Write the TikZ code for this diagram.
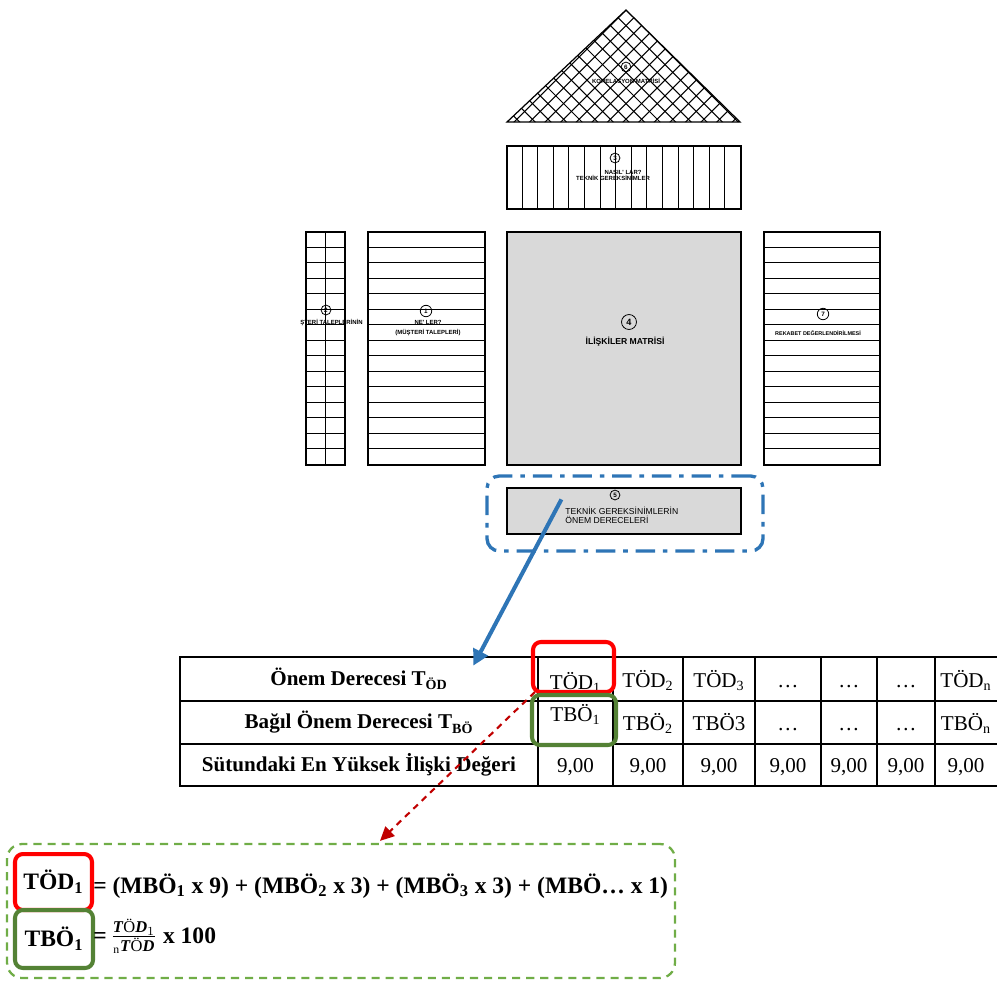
\documentclass[tikz,border=0pt]{standalone}
\usepackage{amsmath}
\usepackage{fontspec}
\setmainfont{Liberation Serif}
\newfontfamily\arialfont{Liberation Sans}
\usepackage{xcolor}
\usetikzlibrary{arrows.meta, calc, positioning}
\definecolor{qfdblue}{HTML}{2E75B6}
\definecolor{markred}{HTML}{FF0000}
\definecolor{markgreen}{HTML}{548235}
\definecolor{arrowred}{HTML}{C00000}
\definecolor{boxgreen}{HTML}{70AD47}
\definecolor{matgray}{HTML}{D9D9D9}

\begin{document}
\begin{tikzpicture}[x=0.02cm, y=-0.02cm,
    part/.style={draw, line width=0.7pt, inner sep=0pt},
    rule/.style={line width=0.5pt},
    num/.style={circle, draw, line width=0.45pt, inner sep=0pt, minimum size=5.6pt, font=\arialfont\bfseries\fontsize{3.6}{4}\selectfont},
    lbl/.style={inner sep=0pt, font=\arialfont\bfseries\fontsize{3.4}{4}\selectfont},
    tbl/.style={line width=1.5pt, line cap=rect},
    cell/.style={inner sep=0pt, anchor=base, font=\fontsize{12}{14}\selectfont},
    head/.style={inner sep=0pt, font=\bfseries\fontsize{12}{14}\selectfont, minimum width=7.16cm, minimum height=0.88cm},
    redbox/.style={draw=markred, line width=2.3pt, rounded corners=4.5pt, inner sep=0pt},
    greenbox/.style={draw=markgreen, line width=2.3pt, rounded corners=4.5pt, inner sep=0pt},
    formula/.style={inner sep=0pt, font=\bfseries\fontsize{13.4}{16}\selectfont},
    blue arrow/.style={draw=qfdblue, line width=2.3pt, -{Triangle[length=9pt, width=9pt]}},
    red arrow/.style={draw=arrowred, line width=1.2pt, dash pattern=on 3.6pt off 3pt, -{Triangle[length=8pt, width=7.5pt]}}
]
    \useasboundingbox (0,0) rectangle (997,981);

    % roof: correlation matrix
    \coordinate (roof-l) at (507,122);
    \coordinate (roof-t) at (626,10);
    \coordinate (roof-r) at (740,122);
    \begin{scope}
        \clip (roof-l) -- (roof-t) -- (roof-r) -- cycle;
        \foreach \i in {-16,...,16} {
            \draw[line width=0.6pt] (626+\i*15.6-140,10-140) -- (626+\i*15.6+140,10+140);
            \draw[line width=0.6pt] (626+\i*15.6+140,10-140) -- (626+\i*15.6-140,10+140);
        }
    \end{scope}
    \draw[line width=0.7pt] (roof-l) -- (roof-t) -- (roof-r) -- cycle;
    \node[num] (n6) at (626,67) {6};
    \node[lbl] (roof) at (626,81) {KORELASYON MATRİSİ};

    % technical requirements (hows)
    \node[part, minimum width=4.68cm, minimum height=1.26cm] (hows) at (624,177.5) {};
    \foreach \i in {1,...,14}
        \draw[rule] ($(hows.north west)+(\i*15.6,0)$) -- ($(hows.south west)+(\i*15.6,0)$);
    \node[num] (n3) at (615,158) {3};
    \node[lbl] (hows-a) at (623,172) {NASIL' LAR?};
    \node[lbl] (hows-b) at (613,178) {TEKNİK GEREKSİNİMLER};

    % left blocks
    \node[part, minimum width=0.78cm, minimum height=4.66cm] (whys) at (325.5,348.5) {};
    \node[part, minimum width=2.34cm, minimum height=4.66cm] (whats) at (426.5,348.5) {};
    \node[part, fill=matgray, minimum width=4.68cm, minimum height=4.66cm] (matrix) at (624,348.5) {};
    \node[part, minimum width=2.32cm, minimum height=4.66cm] (compet) at (822,348.5) {};
    \foreach \n in {whys, whats, compet}
        \foreach \i in {1,...,14}
            \draw[rule] ($(\n.north west)+(0,\i*15.53)$) -- ($(\n.north east)+(0,\i*15.53)$);
    \draw[rule] (whys.north) -- (whys.south);

    \node[num] (n2) at (326,310) {2};
    \node[lbl, anchor=west] (whys-text) at (300,323) {ŞTERİ TALEPLERİNİN};
    \node[num, minimum size=6.5pt] (n1) at (426,311) {1};
    \node[lbl] (whats-a) at (428,322) {NE' LER?};
    \node[lbl] (whats-b) at (428,333) {(MÜŞTERİ TALEPLERİ)};
    \node[num, minimum size=8.5pt, font=\arialfont\bfseries\fontsize{5.2}{6}\selectfont] (n4) at (629,322) {4};
    \node[lbl, font=\arialfont\bfseries\fontsize{4.9}{5}\selectfont] (matrix-text) at (625,342) {İLİŞKİLER MATRİSİ};
    \node[num, minimum size=6.5pt] (n7) at (823,314) {7};
    \node[lbl, font=\arialfont\bfseries\fontsize{3.1}{4}\selectfont] (compet-text) at (818,333) {REKABET DEĞERLENDİRİLMESİ};

    % importance of technical requirements
    \node[part, fill=matgray, minimum width=4.68cm, minimum height=0.92cm] (imp) at (624,511) {};
    \node[num] (n5) at (615,495) {5};
    \node[lbl, font=\arialfont\fontsize{4.9}{4.1}\selectfont, align=left, anchor=west] (imp-text) at (565,515.5) {TEKNİK GEREKSİNİMLERİN\\ÖNEM DERECELERİ};
    \node[draw=qfdblue, line width=1.9pt, dash pattern=on 11pt off 4.5pt on 2.6pt off 4.5pt, rounded corners=7pt, minimum width=5.52cm, minimum height=1.5cm] (focus) at (625,513.5) {};

    % table
    \foreach \x in {180,538,613,683,755,821,877,935}
        \draw[tbl] (\x,657) -- (\x,786);
    \foreach \y in {657,701,744,786}
        \draw[tbl] (180,\y) -- (997,\y);
    \node[head] (h1) at (359,679) {Önem Derecesi T\textsubscript{ÖD}};
    \node[head] (h2) at (359,722.5) {Bağıl Önem Derecesi T\textsubscript{BÖ}};
    \node[head] (h3) at (359,765) {Sütundaki En Yüksek İlişki Değeri};
    \foreach \x/\t [count=\c] in {648/TÖD\textsubscript{2}, 719/TÖD\textsubscript{3}, 788/…, 849/…, 906/…, 966/TÖD\textsubscript{n}}
        \node[cell] (a\c) at (\x,687) {\t};
    \foreach \x/\t [count=\c] in {648/TBÖ\textsubscript{2}, 719/TBÖ3, 788/…, 849/…, 906/…, 966/TBÖ\textsubscript{n}}
        \node[cell] (b\c) at (\x,730) {\t};
    \foreach \x [count=\c] in {575.5,648,719,788,849,906,966}
        \node[cell] (c\c) at (\x,772) {9,00};
    \node[cell] (a0) at (575.5,689) {TÖD\textsubscript{1}};
    \node[cell] (b0) at (575.5,721) {TBÖ\textsubscript{1}};
    \node[redbox, minimum width=1.62cm, minimum height=1cm] (tod1) at (573.5,667) {};
    \node[greenbox, minimum width=1.68cm, minimum height=1cm] (tbo1) at (574,720) {};

    % formulas
    \node[draw=boxgreen, line width=1.3pt, dash pattern=on 4.6pt off 3.4pt, rounded corners=8.5pt, minimum width=13.36cm, minimum height=2.68cm] (fbox) at (341,911) {};
    \node[redbox, formula, minimum width=1.54cm, minimum height=1.12cm] (ftod) at (53.5,882) {TÖD\textsubscript{1}};
    \node[greenbox, formula, minimum width=1.56cm, minimum height=1.16cm] (ftbo) at (54,939) {TBÖ\textsubscript{1}};
    \node[formula, anchor=base west] (fline1) at (93,893) {= (MBÖ\textsubscript{1} x 9) + (MBÖ\textsubscript{2} x 3) + (MBÖ\textsubscript{3} x 3) + (MBÖ… x 1)};
    \node[formula, anchor=base west] (fline2) at (93,943) {=\,$\frac{\text{\textit{T}\textnormal{Ö}\textit{D}}_1}{{}_{\textnormal{n}}\text{\textit{T}\textnormal{Ö}\textit{D}}}$ x 100};

    % arrows
    \draw[blue arrow] ($(imp.north west)+(55,12)$) -- ($(h1.north east)+(-65,9)$);
    \draw[red arrow] ($(tbo1.north west)+(5,-1)$) -- ($(fbox.north)+(39,-2)$);
\end{tikzpicture}
\end{document}
